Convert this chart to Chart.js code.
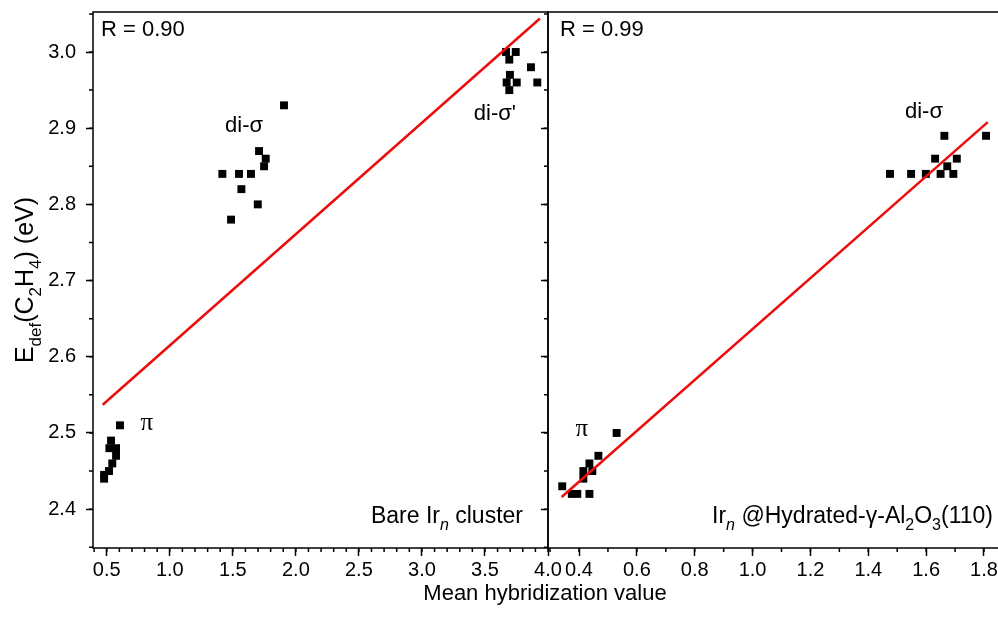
<!DOCTYPE html>
<html lang="en">
<head>
  <meta charset="UTF-8">
  <title>Edef(C2H4) vs mean hybridization</title>
  <script src="https://cdn.jsdelivr.net/npm/chart.js"></script>
  <style>
    html, body { margin: 0; padding: 0; background: #fff; overflow: hidden; }
    .wrap { position: relative; width: 998px; height: 631px; }
    .wrap canvas { position: absolute; left: 0; top: 0; }
  </style>
</head>
<body>
  <div class="wrap">
    <canvas id="bare" width="998" height="631"></canvas>
    <canvas id="hydr" width="1020" height="631"></canvas>
  </div>

  <script>
    // ---- data ----
    // left panel: bare Ir_n cluster
    const barePiX = [0.605, 0.534, 0.521, 0.574, 0.574, 0.544, 0.518, 0.479, 0.479];
    const barePiY = [2.51, 2.49, 2.48, 2.48, 2.47, 2.46, 2.45, 2.445, 2.44];
    const bareSigmaX = [1.906, 1.708, 1.761, 1.748, 1.417, 1.549, 1.644, 1.568, 1.698, 1.486];
    const bareSigmaY = [2.93, 2.87, 2.86, 2.85, 2.84, 2.84, 2.84, 2.82, 2.80, 2.78];
    const bareSigma2X = [3.667, 3.744, 3.693, 3.865, 3.698, 3.752, 3.672, 3.693, 3.915];
    const bareSigma2Y = [3.00, 3.00, 2.99, 2.98, 2.97, 2.96, 2.96, 2.95, 2.96];
    const bareFitX = [0.468, 3.936];
    const bareFitY = [2.537, 3.044];

    // right panel: Ir_n @ hydrated gamma-Al2O3(110)
    const hydPiX = [0.530, 0.467, 0.436, 0.446, 0.415, 0.415, 0.342, 0.375, 0.394, 0.436];
    const hydPiY = [2.50, 2.47, 2.46, 2.45, 2.45, 2.44, 2.43, 2.42, 2.42, 2.42];
    const hydSigmaX = [1.663, 1.807, 1.631, 1.706, 1.673, 1.475, 1.548, 1.599, 1.650, 1.694];
    const hydSigmaY = [2.89, 2.89, 2.86, 2.86, 2.85, 2.84, 2.84, 2.84, 2.84, 2.84];
    const hydFitX = [0.340, 1.813];
    const hydFitY = [2.416, 2.908];

    // tick labels
    const yTicks = [2.4, 2.5, 2.6, 2.7, 2.8, 2.9, 3.0];
    const bareXTicks = [0.5, 1.0, 1.5, 2.0, 2.5, 3.0, 3.5, 4.0];
    const hydXTicks = [0.4, 0.6, 0.8, 1.0, 1.2, 1.4, 1.6, 1.8];

    const FONT = '"Liberation Sans", Arial, sans-serif';
    const SERIF = '"Liberation Serif", serif';
    const RED = 'rgb(236,12,12)';

    const pts = (xs, ys) => xs.map((x, i) => ({ x: x, y: ys[i] }));

    // draw text made of pieces: [text, kind] kind = '' | 'sub' | 'isub'
    function richText(ctx, parts, x, y, size, align, family) {
      const fam = family || FONT;
      const fontFor = k => (k.indexOf('i') === 0 ? 'italic ' : '') +
        (k.indexOf('sub') >= 0 ? Math.round(size * 0.68) : size) + 'px ' + fam;
      let w = 0;
      for (const [t, k] of parts) { ctx.font = fontFor(k); w += ctx.measureText(t).width; }
      let cx = align === 'center' ? x - w / 2 : align === 'right' ? x - w : x;
      ctx.textAlign = 'left';
      ctx.textBaseline = 'alphabetic';
      for (const [t, k] of parts) {
        ctx.font = fontFor(k);
        ctx.fillText(t, cx, y + (k.indexOf('sub') >= 0 ? size * 0.3 : 0));
        cx += ctx.measureText(t).width;
      }
    }

    // frame, minor ticks and text notes (kept in a closure, not in chart options)
    function makeDecor(notes, xMinorStart) {
      return {
        id: 'decor',
        afterDraw(chart) {
          const ctx = chart.ctx, a = chart.chartArea;
          const xs = chart.scales.x, ys = chart.scales.y;
          ctx.save();
          ctx.strokeStyle = '#000';
          ctx.lineWidth = 1.5;
          ctx.strokeRect(a.left, a.top, a.right - a.left, a.bottom - a.top);

          ctx.beginPath();
          for (let v = xMinorStart; v <= xs.max + 1e-9; v += 0.1) {
            const p = xs.getPixelForValue(v);
            ctx.moveTo(p, a.bottom); ctx.lineTo(p, a.bottom + 4);
          }
          for (let v = 2.35; v <= ys.max + 1e-9; v += 0.05) {
            const p = ys.getPixelForValue(v);
            ctx.moveTo(a.left, p); ctx.lineTo(a.left - 4, p);
          }
          ctx.stroke();

          ctx.fillStyle = '#000';
          for (const n of notes) {
            const px = n.at ? xs.getPixelForValue(n.at[0]) : n.px[0];
            const py = n.at ? ys.getPixelForValue(n.at[1]) : n.px[1];
            if (n.rotate) {
              ctx.save();
              ctx.translate(px, py);
              ctx.rotate(n.rotate);
              richText(ctx, n.parts, 0, 0, n.size, n.align, n.family);
              ctx.restore();
            } else {
              richText(ctx, n.parts, px, py, n.size, n.align, n.family);
            }
          }
          ctx.restore();
        }
      };
    }

    function buildChart(id, cfg) {
      const markers = {
        data: cfg.points,
        pointStyle: 'rect',
        pointRadius: 5.6,
        backgroundColor: '#000',
        borderWidth: 0,
        order: 2
      };
      const fit = {
        data: cfg.fit,
        showLine: true,
        borderColor: RED,
        borderWidth: 2.5,
        pointRadius: 0,
        order: 1
      };
      return new Chart(document.getElementById(id), {
        type: 'scatter',
        data: { datasets: [markers, fit] },
        options: {
          responsive: false,
          animation: false,
          events: [],
          layout: { padding: cfg.padding },
          scales: {
            x: {
              type: 'linear',
              min: cfg.xMin,
              max: cfg.xMax,
              afterBuildTicks: ax => { ax.ticks = cfg.xTicks.map(v => ({ value: v })); },
              afterFit: ax => { ax.height = 83; },
              border: { display: false },
              grid: { drawOnChartArea: false, tickLength: 8, tickWidth: 1.5, tickColor: '#000' },
              ticks: {
                padding: 2,
                color: '#000',
                font: { family: FONT, size: 20 },
                callback: v => Number(v).toFixed(1)
              }
            },
            y: {
              type: 'linear',
              min: 2.349,
              max: 3.0525,
              afterBuildTicks: ax => { ax.ticks = yTicks.map(v => ({ value: v })); },
              afterFit: ax => { ax.width = cfg.yWidth; ax.paddingTop = 0; ax.paddingBottom = 0; },
              border: { display: false },
              grid: { drawOnChartArea: false, tickLength: 7, tickWidth: 1.5, tickColor: '#000' },
              ticks: {
                display: cfg.yLabels,
                padding: 10,
                color: '#000',
                font: { family: FONT, size: 20 },
                callback: v => Number(v).toFixed(1)
              }
            }
          },
          plugins: {
            legend: { display: false },
            tooltip: { enabled: false }
          }
        },
        plugins: [makeDecor(cfg.notes, cfg.xMinorStart)]
      });
    }

    buildChart('bare', {
      points: pts(barePiX.concat(bareSigmaX, bareSigma2X), barePiY.concat(bareSigmaY, bareSigma2Y)),
      fit: pts(bareFitX, bareFitY),
      xMin: 0.391, xMax: 4.0, xTicks: bareXTicks, xMinorStart: 0.4,
      padding: { left: 0, right: 450, top: 12, bottom: 0 },
      yWidth: 93, yLabels: true,
      notes: [
        { px: [101, 36], parts: [['R = 0.90', '']], size: 22, align: 'left' },
        { at: [1.589, 2.895], parts: [['di-σ', '']], size: 22, align: 'center' },
        { at: [3.579, 2.911], parts: [["di-σ'", '']], size: 22, align: 'center' },
        { at: [0.817, 2.504], parts: [['π', '']], size: 25, align: 'center', family: SERIF },
        { px: [523, 523], parts: [['Bare Ir', ''], ['n', 'isub'], [' cluster', '']], size: 23, align: 'right' },
        { px: [33, 280], rotate: -Math.PI / 2, size: 25, align: 'center',
          parts: [['E', ''], ['def', 'sub'], ['(C', ''], ['2', 'sub'], ['H', ''], ['4', 'sub'], [') (eV)', '']] },
        { px: [545, 600], parts: [['Mean hybridization value', '']], size: 22, align: 'center' }
      ]
    });

    buildChart('hydr', {
      points: pts(hydPiX.concat(hydSigmaX), hydPiY.concat(hydSigmaY)),
      fit: pts(hydFitX, hydFitY),
      xMin: 0.2928, xMax: 1.8726, xTicks: hydXTicks, xMinorStart: 0.3,
      padding: { left: 540, right: 15, top: 12, bottom: 0 },
      yWidth: 8, yLabels: false,
      notes: [
        { px: [560, 36], parts: [['R = 0.99', '']], size: 22, align: 'left' },
        { at: [1.5925, 2.913], parts: [['di-σ', '']], size: 22, align: 'center' },
        { at: [0.410, 2.496], parts: [['π', '']], size: 25, align: 'center', family: SERIF },
        { px: [993, 523], size: 23, align: 'right',
          parts: [['Ir', ''], ['n', 'isub'], [' @Hydrated-γ-Al', ''], ['2', 'sub'], ['O', ''], ['3', 'sub'], ['(110)', '']] }
      ]
    });
  </script>
</body>
</html>
